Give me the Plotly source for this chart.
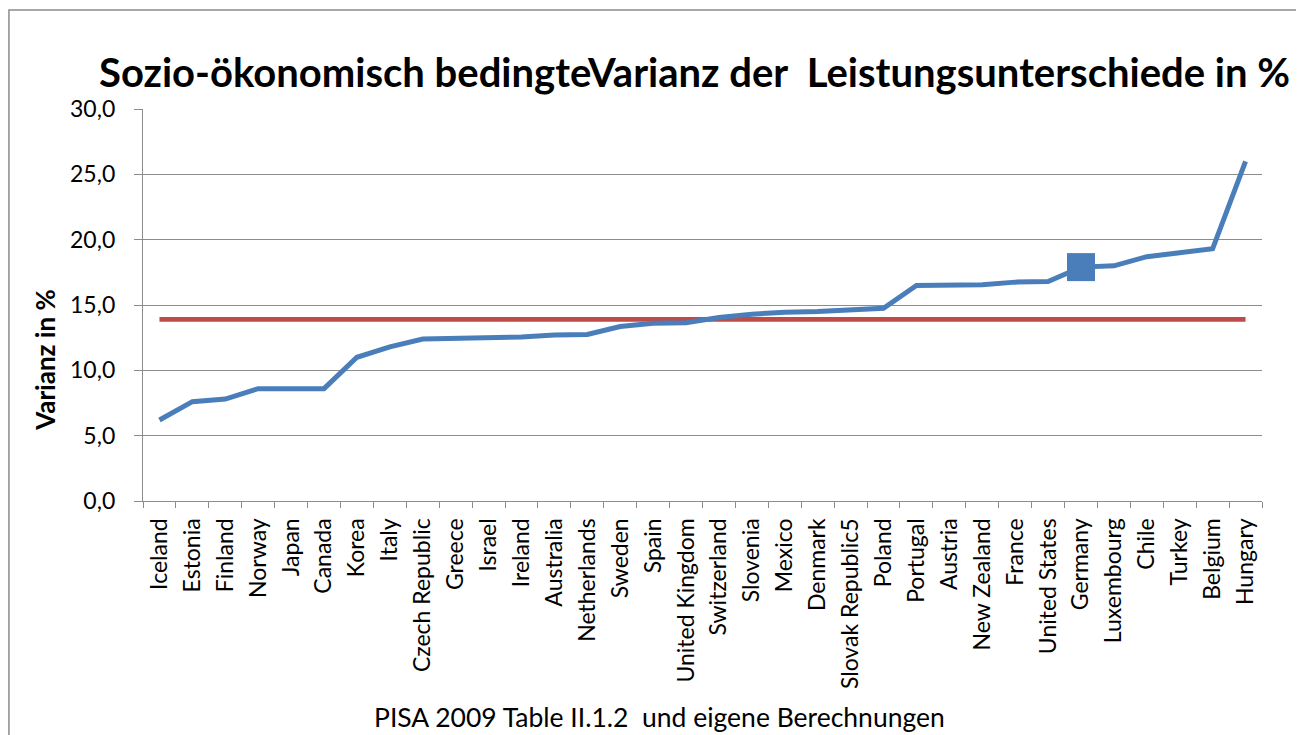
import plotly.graph_objects as go

countries = ["Iceland", "Estonia", "Finland", "Norway", "Japan", "Canada", "Korea", "Italy",
             "Czech Republic", "Greece", "Israel", "Ireland", "Australia", "Netherlands", "Sweden",
             "Spain", "United Kingdom", "Switzerland", "Slovenia", "Mexico", "Denmark",
             "Slovak Republic5", "Poland", "Portugal", "Austria", "New Zealand", "France",
             "United States", "Germany", "Luxembourg", "Chile", "Turkey", "Belgium", "Hungary"]
varianz = [6.2, 7.6, 7.8, 8.6, 8.6, 8.6, 11.0, 11.8, 12.4, 12.45, 12.5, 12.55, 12.7, 12.75, 13.35,
           13.6, 13.65, 14.05, 14.3, 14.45, 14.5, 14.65, 14.75, 16.5, 16.55, 16.55, 16.75, 16.8,
           17.9, 18.0, 18.7, 19.0, 19.3, 26.0]
oecd_avg = [13.9] * len(countries)
highlight = "Germany"

BLUE = "#4A7EBB"
RED = "#BE4B48"
GRID = "#8C8C8C"
FONT = "Lato"

fig = go.Figure()
fig.add_trace(go.Scatter(x=countries, y=oecd_avg, mode="lines",
                         line=dict(color=RED, width=4.8), hoverinfo="skip"))
fig.add_trace(go.Scatter(x=countries, y=varianz, mode="lines",
                         line=dict(color=BLUE, width=5)))
hi = countries.index(highlight)
fig.add_trace(go.Scatter(x=[countries[hi]], y=[varianz[hi]], mode="markers",
                         marker=dict(symbol="square", size=28, color=BLUE)))

fig.update_layout(
    width=1296, height=727,
    margin=dict(l=135, r=42, t=101, b=234, autoexpand=False),
    paper_bgcolor="white", plot_bgcolor="white",
    showlegend=False,
    separators=", ",
    font=dict(family=FONT, color="black"),
    xaxis=dict(
        type="category", range=[-0.5, len(countries) - 0.5],
        tickangle=-90, tickson="boundaries",
        ticks="outside", ticklen=6, tickcolor=GRID, tickwidth=1.3,
        showline=True, linecolor=GRID, linewidth=1.3,
        showgrid=False, tickfont=dict(size=23, family=FONT),
        ticklabelstandoff=7,
    ),
    yaxis=dict(
        range=[0, 30], tickvals=[0, 5, 10, 15, 20, 25, 30], tickformat=".1f",
        ticks="outside", ticklen=8, tickcolor=GRID, tickwidth=1.3,
        showline=True, linecolor=GRID, linewidth=1.3,
        showgrid=True, gridcolor=GRID, gridwidth=1.3, zeroline=False,
        tickfont=dict(size=23, family=FONT), ticklabelstandoff=14,
    ),
    shapes=[dict(type="rect", xref="paper", yref="paper",
                 x0=-0.1198, x1=1.2, y0=-1.0, y1=1.2526,
                 line=dict(color="#8C8C8C", width=1.5), fillcolor="rgba(0,0,0,0)", layer="below")],
    annotations=[
        dict(text="<b>Sozio-ökonomisch bedingteVarianz der&nbsp; Leistungsunterschiede in %</b>",
             xref="paper", yref="paper", x=0.493, y=1.094, showarrow=False,
             xanchor="center", yanchor="middle", font=dict(size=40, family=FONT)),
        dict(text="<b>Varianz in %</b>", xref="paper", yref="paper", x=-0.0876, y=0.36,
             textangle=-90, showarrow=False, xanchor="center", yanchor="middle",
             font=dict(size=26, family=FONT)),
        dict(text="PISA 2009 Table II.1.2&nbsp; und eigene Berechnungen", xref="paper", yref="paper",
             x=0.462, y=-0.551, showarrow=False, xanchor="center", yanchor="middle",
             font=dict(size=26.5, family=FONT)),
    ],
)

fig.write_html("out.html")
